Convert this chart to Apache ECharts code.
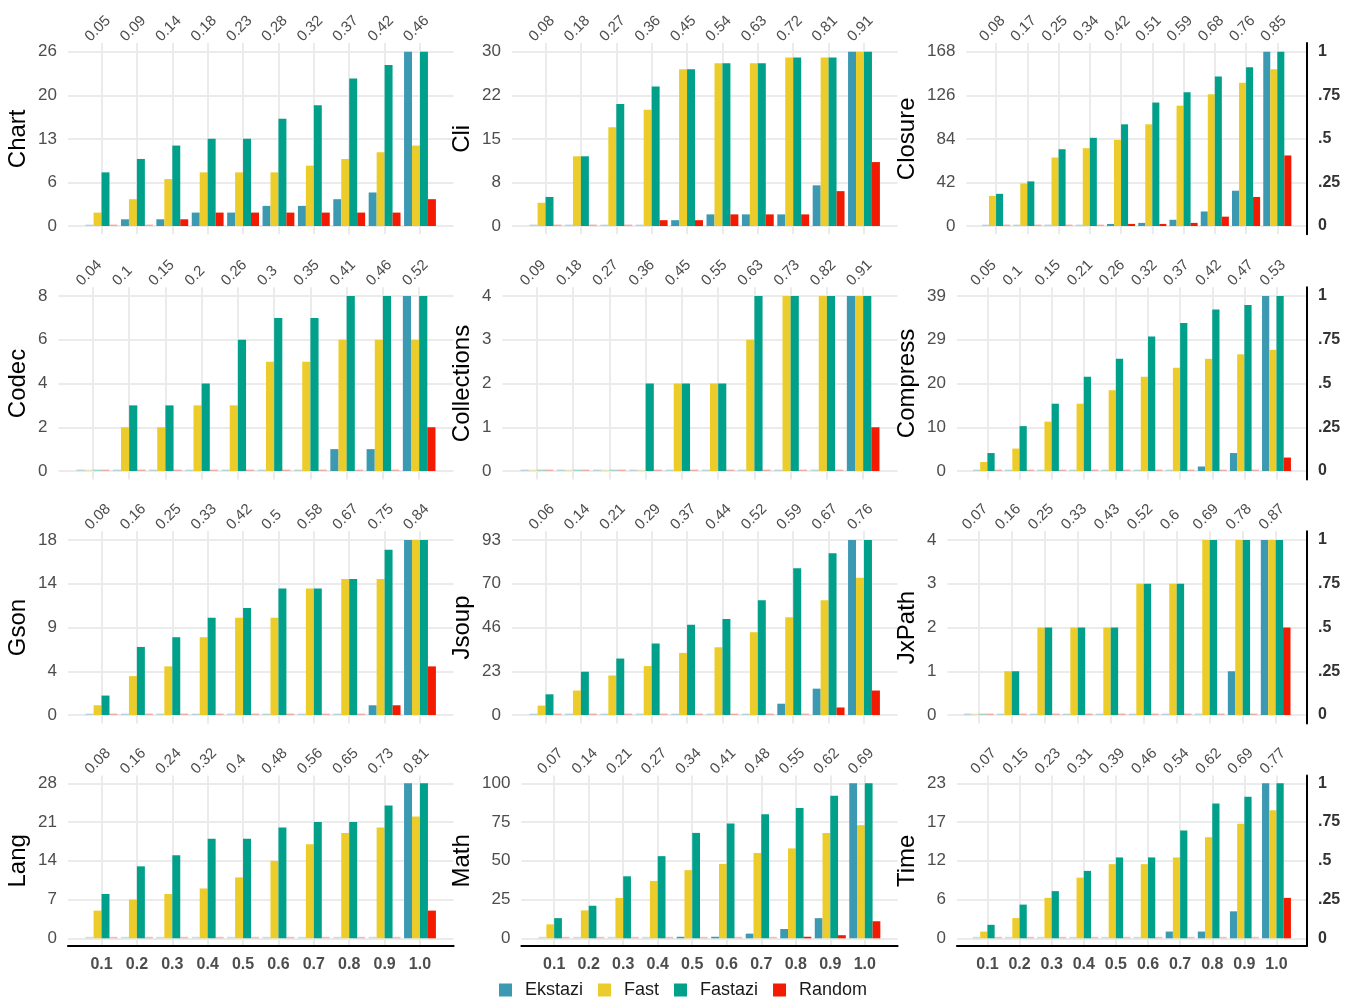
<!DOCTYPE html>
<html><head><meta charset="utf-8">
<script src="https://cdn.jsdelivr.net/npm/echarts@6/dist/echarts.min.js"></script>
<style>html,body{margin:0;padding:0;background:#fff}#c{width:1355px;height:1000px}</style>
</head><body><div id="c"></div>
<script>
// ---------- DATA ----------
const categories = ['0.1','0.2','0.3','0.4','0.5','0.6','0.7','0.8','0.9','1.0'];
const seriesNames = ['Ekstazi','Fast','Fastazi','Random'];
const seriesColors = ['#3B9AB2','#EBCC2A','#00A08A','#F21A00'];
const rightTicks = ['0','.25','.5','.75','1'];

const chartTop = ['0.05','0.09','0.14','0.18','0.23','0.28','0.32','0.37','0.42','0.46'];
const chartTicks = ['0','6','13','20','26'];
const chartEkstazi = [0,1,1,2,2,3,3,4,5,26];
const chartFast    = [2,4,7,8,8,8,9,10,11,12];
const chartFastazi = [8,10,12,13,13,16,18,22,24,26];
const chartRandom  = [0,0,1,2,2,2,2,2,2,4];

const cliTop = ['0.08','0.18','0.27','0.36','0.45','0.54','0.63','0.72','0.81','0.91'];
const cliTicks = ['0','8','15','22','30'];
const cliEkstazi = [0,0,0,0,1,2,2,2,7,30];
const cliFast    = [4,12,17,20,27,28,28,29,29,30];
const cliFastazi = [5,12,21,24,27,28,28,29,29,30];
const cliRandom  = [0,0,0,1,1,2,2,2,6,11];

const closureTop = ['0.08','0.17','0.25','0.34','0.42','0.51','0.59','0.68','0.76','0.85'];
const closureTicks = ['0','42','84','126','168'];
const closureEkstazi = [0,0,0,0,2,3,6,14,34,168];
const closureFast    = [29,41,66,75,83,98,116,127,138,151];
const closureFastazi = [31,43,74,85,98,119,129,144,153,168];
const closureRandom  = [0,0,0,0,2,2,3,9,28,68];

const codecTop = ['0.04','0.1','0.15','0.2','0.26','0.3','0.35','0.41','0.46','0.52'];
const codecTicks = ['0','2','4','6','8'];
const codecEkstazi = [0,0,0,0,0,0,0,1,1,8];
const codecFast    = [0,2,2,3,3,5,5,6,6,6];
const codecFastazi = [0,3,3,4,6,7,7,8,8,8];
const codecRandom  = [0,0,0,0,0,0,0,0,0,2];

const collectionsTop = ['0.09','0.18','0.27','0.36','0.45','0.55','0.63','0.73','0.82','0.91'];
const collectionsTicks = ['0','1','2','3','4'];
const collectionsEkstazi = [0,0,0,0,0,0,0,0,0,4];
const collectionsFast    = [0,0,0,0,2,2,3,4,4,4];
const collectionsFastazi = [0,0,0,2,2,2,4,4,4,4];
const collectionsRandom  = [0,0,0,0,0,0,0,0,0,1];

const compressTop = ['0.05','0.1','0.15','0.21','0.26','0.32','0.37','0.42','0.47','0.53'];
const compressTicks = ['0','10','20','29','39'];
const compressEkstazi = [0,0,0,0,0,0,0,1,4,39];
const compressFast    = [2,5,11,15,18,21,23,25,26,27];
const compressFastazi = [4,10,15,21,25,30,33,36,37,39];
const compressRandom  = [0,0,0,0,0,0,0,0,0,3];

const gsonTop = ['0.08','0.16','0.25','0.33','0.42','0.5','0.58','0.67','0.75','0.84'];
const gsonTicks = ['0','4','9','14','18'];
const gsonEkstazi = [0,0,0,0,0,0,0,0,1,18];
const gsonFast    = [1,4,5,8,10,10,13,14,14,18];
const gsonFastazi = [2,7,8,10,11,13,13,14,17,18];
const gsonRandom  = [0,0,0,0,0,0,0,0,1,5];

const jsoupTop = ['0.06','0.14','0.21','0.29','0.37','0.44','0.52','0.59','0.67','0.76'];
const jsoupTicks = ['0','23','46','70','93'];
const jsoupEkstazi = [0,0,0,0,0,0,0,6,14,93];
const jsoupFast    = [5,13,21,26,33,36,44,52,61,73];
const jsoupFastazi = [11,23,30,38,48,51,61,78,86,93];
const jsoupRandom  = [0,0,0,0,0,0,0,0,4,13];

const jxpathTop = ['0.07','0.16','0.25','0.33','0.43','0.52','0.6','0.69','0.78','0.87'];
const jxpathTicks = ['0','1','2','3','4'];
const jxpathEkstazi = [0,0,0,0,0,0,0,0,1,4];
const jxpathFast    = [0,1,2,2,2,3,3,4,4,4];
const jxpathFastazi = [0,1,2,2,2,3,3,4,4,4];
const jxpathRandom  = [0,0,0,0,0,0,0,0,0,2];

const langTop = ['0.08','0.16','0.24','0.32','0.4','0.48','0.56','0.65','0.73','0.81'];
const langTicks = ['0','7','14','21','28'];
const langEkstazi = [0,0,0,0,0,0,0,0,0,28];
const langFast    = [5,7,8,9,11,14,17,19,20,22];
const langFastazi = [8,13,15,18,18,20,21,21,24,28];
const langRandom  = [0,0,0,0,0,0,0,0,0,5];

const mathTop = ['0.07','0.14','0.21','0.27','0.34','0.41','0.48','0.55','0.62','0.69'];
const mathTicks = ['0','25','50','75','100'];
const mathEkstazi = [0,0,0,0,1,1,3,6,13,100];
const mathFast    = [9,18,26,37,44,48,55,58,68,73];
const mathFastazi = [13,21,40,53,68,74,80,84,92,100];
const mathRandom  = [0,0,0,0,0,0,0,1,2,11];

const timeTop = ['0.07','0.15','0.23','0.31','0.39','0.46','0.54','0.62','0.69','0.77'];
const timeTicks = ['0','6','12','17','23'];
const timeEkstazi = [0,0,0,0,0,0,1,1,4,23];
const timeFast    = [1,3,6,9,11,11,12,15,17,19];
const timeFastazi = [2,5,7,10,12,12,16,20,21,23];
const timeRandom  = [0,0,0,0,0,0,0,0,0,6];

const panels = [
  {name:'Chart', top:chartTop, ticks:chartTicks, data:[chartEkstazi,chartFast,chartFastazi,chartRandom]},
  {name:'Cli', top:cliTop, ticks:cliTicks, data:[cliEkstazi,cliFast,cliFastazi,cliRandom]},
  {name:'Closure', top:closureTop, ticks:closureTicks, data:[closureEkstazi,closureFast,closureFastazi,closureRandom]},
  {name:'Codec', top:codecTop, ticks:codecTicks, data:[codecEkstazi,codecFast,codecFastazi,codecRandom]},
  {name:'Collections', top:collectionsTop, ticks:collectionsTicks, data:[collectionsEkstazi,collectionsFast,collectionsFastazi,collectionsRandom]},
  {name:'Compress', top:compressTop, ticks:compressTicks, data:[compressEkstazi,compressFast,compressFastazi,compressRandom]},
  {name:'Gson', top:gsonTop, ticks:gsonTicks, data:[gsonEkstazi,gsonFast,gsonFastazi,gsonRandom]},
  {name:'Jsoup', top:jsoupTop, ticks:jsoupTicks, data:[jsoupEkstazi,jsoupFast,jsoupFastazi,jsoupRandom]},
  {name:'JxPath', top:jxpathTop, ticks:jxpathTicks, data:[jxpathEkstazi,jxpathFast,jxpathFastazi,jxpathRandom]},
  {name:'Lang', top:langTop, ticks:langTicks, data:[langEkstazi,langFast,langFastazi,langRandom]},
  {name:'Math', top:mathTop, ticks:mathTicks, data:[mathEkstazi,mathFast,mathFastazi,mathRandom]},
  {name:'Time', top:timeTop, ticks:timeTicks, data:[timeEkstazi,timeFast,timeFastazi,timeRandom]}
];

// ---------- LAYOUT ----------
const FONT = '"Liberation Sans", Arial, Helvetica, sans-serif';
const colTitleX = [18, 462, 907];
const colRight = [453.6, 897.6, 1307];
const rowYTop = [51.7, 296, 540, 783.3];
const rowYZero = [226, 471, 715, 938.3];
const GRID = '#ebebeb';
const TXT = '#4d4d4d';
const YFS = 17;

const mctx = document.createElement('canvas').getContext('2d');
mctx.font = YFS + 'px ' + FONT;
function tw(s){ return mctx.measureText(s).width; }

const grid = [], xAxis = [], yAxis = [], series = [];
function addGrid(g){ grid.push(g); return grid.length - 1; }

panels.forEach((p, i) => {
  const r = Math.floor(i / 3), c = i % 3;
  const M = Math.max(...p.data.map(a => Math.max(...a)));
  const labelW = Math.max(...p.ticks.map(tw));
  const L = colTitleX[c] + 20 + labelW + 11;
  const R = colRight[c];
  const W = R - L;
  const s = W / 10.9;
  const c0 = L + 0.95 * s;
  const yTop = rowYTop[r], yZero = rowYZero[r], h = yZero - yTop;
  const T = yTop - 0.05 * h, B = yZero + 0.048 * h;

  // horizontal grid + left labels
  const gH = addGrid({left:L, top:yTop, width:W, height:h});
  xAxis.push({gridIndex:gH, type:'category', data:categories, show:false});
  yAxis.push({gridIndex:gH, type:'value', min:0, max:M, interval:M/4,
    axisLine:{show:false}, axisTick:{show:false},
    splitLine:{show:true, lineStyle:{color:GRID, width:2}},
    axisLabel:{margin:11, fontSize:YFS, color:TXT, fontFamily:FONT,
      formatter:(v)=>p.ticks[Math.round(v/(M/4))]},
    name:p.name, nameLocation:'middle', nameRotate:90, nameGap:L - colTitleX[c] - 12,
    nameTextStyle:{fontSize:24, color:'#000', fontFamily:FONT}});
  if (c === 2) {
    yAxis.push({gridIndex:gH, type:'value', position:'right', min:0, max:1, interval:0.25,
      axisLine:{show:false}, axisTick:{show:false}, splitLine:{show:false},
      axisLabel:{margin:11, fontSize:16, fontWeight:'bold', color:'#333', fontFamily:FONT,
        formatter:(v)=>rightTicks[Math.round(v/0.25)]}});
  }

  // vertical grid lines (+ bottom labels for last row)
  const gV = addGrid({left:c0, top:T, width:9*s, height:B-T});
  xAxis.push({gridIndex:gV, type:'category', data:categories, boundaryGap:false, position:'bottom',
    axisLine:{show:false}, axisTick:{show:false},
    splitLine:{show:true, interval:0, lineStyle:{color:GRID, width:2}},
    axisLabel:{show:r===3, interval:0, margin:11, fontSize:16, fontWeight:'bold', color:TXT, fontFamily:FONT}});
  yAxis.push({gridIndex:gV, type:'value', show:false});

  // top rotated labels
  const gT = addGrid({left:c0-14, top:T, width:9*s, height:10});
  xAxis.push({gridIndex:gT, type:'category', data:p.top, boundaryGap:false, position:'top',
    axisLine:{show:false}, axisTick:{show:false}, splitLine:{show:false},
    axisLabel:{interval:0, rotate:45, margin:4, fontSize:15, color:TXT, fontFamily:FONT}});
  yAxis.push({gridIndex:gT, type:'value', show:false});

  // black axis lines
  if (r === 3 || c === 2) {
    const gX = addGrid({left:L, top:T, width:W, height:B-T});
    xAxis.push({gridIndex:gX, type:'category', data:categories, position:'bottom',
      axisLine:{show:r===3, onZero:false, lineStyle:{color:'#000', width:2}},
      axisTick:{show:false}, axisLabel:{show:false}, splitLine:{show:false}});
    yAxis.push({gridIndex:gX, type:'value', position:'right', min:0, max:1,
      axisLine:{show:c===2, onZero:false, lineStyle:{color:'#000', width:2}},
      axisTick:{show:false}, axisLabel:{show:false}, splitLine:{show:false}});
  }

  // bars
  const gB = addGrid({left:c0 - s/2, top:yTop, width:10*s, height:h});
  const xi = xAxis.length, yi = yAxis.length;
  xAxis.push({gridIndex:gB, type:'category', data:categories, show:false, boundaryGap:true});
  yAxis.push({gridIndex:gB, type:'value', min:0, max:M, show:false});
  p.data.forEach((arr, k) => {
    series.push({type:'bar', name:seriesNames[k], xAxisIndex:xi, yAxisIndex:yi,
      barCategoryGap:'10%', barGap:'0%', barMinHeight:1.5,
      itemStyle:{color:seriesColors[k]},
      data: arr.map(v => v === 0 ? {value:0, itemStyle:{opacity:0.3}} : v)});
  });
});

const chart = echarts.init(document.getElementById('c'), null, {renderer:'canvas'});
chart.setOption({
  animation:false,
  backgroundColor:'#ffffff',
  color: seriesColors,
  grid, xAxis, yAxis, series,
  legend:{data:seriesNames, left:494, top:976, icon:'rect', itemWidth:13, itemHeight:13, itemGap:15,
    textStyle:{fontSize:18, color:'#1a1a1a', fontFamily:FONT, padding:[0,0,0,8]}}
});
</script></body></html>
